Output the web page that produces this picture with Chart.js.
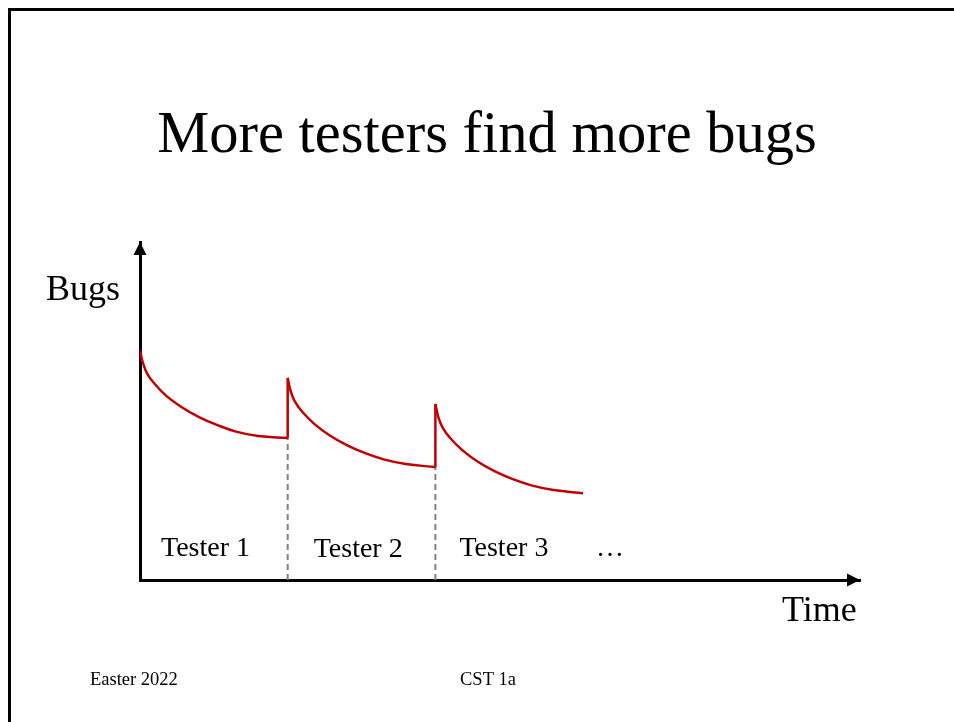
<!DOCTYPE html>
<html>
<head>
<meta charset="utf-8">
<script src="https://cdn.jsdelivr.net/npm/chart.js@4.4.0/dist/chart.umd.min.js"></script>
<style>
  body { margin: 0; background: #fff; }
  #slide { position: relative; width: 954px; height: 722px; overflow: hidden; }
  #frame { position: absolute; left: 8px; top: 8px; width: 1000px; height: 800px;
           border-left: 3px solid #000; border-top: 3px solid #000; }
  canvas { position: absolute; left: 0; top: 0; }
</style>
</head>
<body>
<div id="slide">
  <canvas id="bugs-chart" width="954" height="722"></canvas>
  <div id="frame"></div>
</div>
<script>
// Periods, one per tester
const periods = ['Tester 1', 'Tester 2', 'Tester 3', '…'];
// position inside a tester's period (0 = tester starts, 1 = next one takes over)
const periodPos = [0, 0.02, 0.05, 0.1, 0.18, 0.28, 0.4, 0.52, 0.65, 0.8, 1.0];
// bugs found rate (axis 0..100)
const tester1Bugs = [68.0, 64.2, 60.9, 58.0, 54.4, 51.2, 48.2, 45.9, 43.9, 42.6, 42.0];
const tester2Bugs = [59.8, 55.9, 52.7, 49.7, 46.2, 42.9, 39.9, 37.6, 35.7, 34.3, 33.4];
const tester3Bugs = [52.1, 48.2, 45.0, 42.0, 38.5, 35.2, 32.2, 29.9, 28.0, 26.6, 25.7];
const timeMax = 4.875;
const bugsMax = 100;

const red = '#c00000';
const grey = '#808080';

const curve = (vals, start) => vals.map((v, i) => ({ x: start + periodPos[i], y: v }));
const redLine = (data) => ({
  data, borderColor: red, borderWidth: 2.5, pointRadius: 0,
  tension: 0.4, showLine: true, fill: false
});
const dashLine = (data) => ({
  data, borderColor: grey, borderWidth: 2, borderDash: [6, 4], pointRadius: 0, showLine: true
});

const allBugs = [tester1Bugs, tester2Bugs, tester3Bugs];
const datasets = [];
allBugs.forEach((vals, i) => {
  datasets.push(redLine(curve(vals, i)));
  if (i > 0) {
    const prevEnd = allBugs[i - 1][allBugs[i - 1].length - 1];
    datasets.push(redLine([{ x: i, y: prevEnd }, { x: i, y: vals[0] }]));
    datasets.push(dashLine([{ x: i, y: 0 }, { x: i, y: prevEnd }]));
  }
});

// arrows and slide text
const slideText = {
  id: 'slideText',
  afterDraw(chart) {
    const ctx = chart.ctx;
    const a = chart.chartArea;
    ctx.save();
    ctx.fillStyle = '#000';
    // arrow heads
    ctx.beginPath();
    ctx.moveTo(a.left, a.top);
    ctx.lineTo(a.left - 6.5, a.top + 13);
    ctx.lineTo(a.left + 6.5, a.top + 13);
    ctx.closePath();
    ctx.fill();
    ctx.beginPath();
    ctx.moveTo(a.right, a.bottom);
    ctx.lineTo(a.right - 13, a.bottom - 6.5);
    ctx.lineTo(a.right - 13, a.bottom + 6.5);
    ctx.closePath();
    ctx.fill();

    const serif = '"Liberation Serif", "Times New Roman", serif';
    ctx.textBaseline = 'alphabetic';
    ctx.textAlign = 'center';
    ctx.font = '58.5px ' + serif;
    ctx.fillText('More testers find more bugs', 487, 152);

    ctx.textAlign = 'left';
    ctx.font = '36px ' + serif;
    ctx.fillText('Bugs', 46, 300);
    ctx.fillText('Time', 782, 621);

    ctx.font = '28px ' + serif;
    const xs = chart.scales.x;
    const offs = [21, 26, 24, 13];
    const base = [556, 557, 556, 556];
    periods.forEach((p, i) => {
      ctx.fillText(p, xs.getPixelForValue(i) + offs[i], base[i]);
    });

    ctx.font = '18.5px ' + serif;
    ctx.fillText('Easter 2022', 90, 685);
    ctx.fillText('CST 1a', 460, 685);
    ctx.restore();
  }
};

const ctx = document.getElementById('bugs-chart').getContext('2d');
const bugsChart = new Chart(ctx, {
  type: 'scatter',
  data: { datasets },
  options: {
    responsive: false,
    animation: false,
    events: [],
    layout: { padding: { left: 140, right: 94, top: 242, bottom: 142 } },
    plugins: { legend: { display: false }, tooltip: { enabled: false } },
    scales: {
      x: {
        type: 'linear', min: 0, max: timeMax,
        grid: { display: false, drawTicks: false },
        ticks: { display: false },
        border: { display: true, color: '#000', width: 3 }
      },
      y: {
        type: 'linear', min: 0, max: bugsMax,
        grid: { display: false, drawTicks: false },
        ticks: { display: false },
        border: { display: true, color: '#000', width: 3 }
      }
    }
  },
  plugins: [slideText]
});
</script>
</body>
</html>
